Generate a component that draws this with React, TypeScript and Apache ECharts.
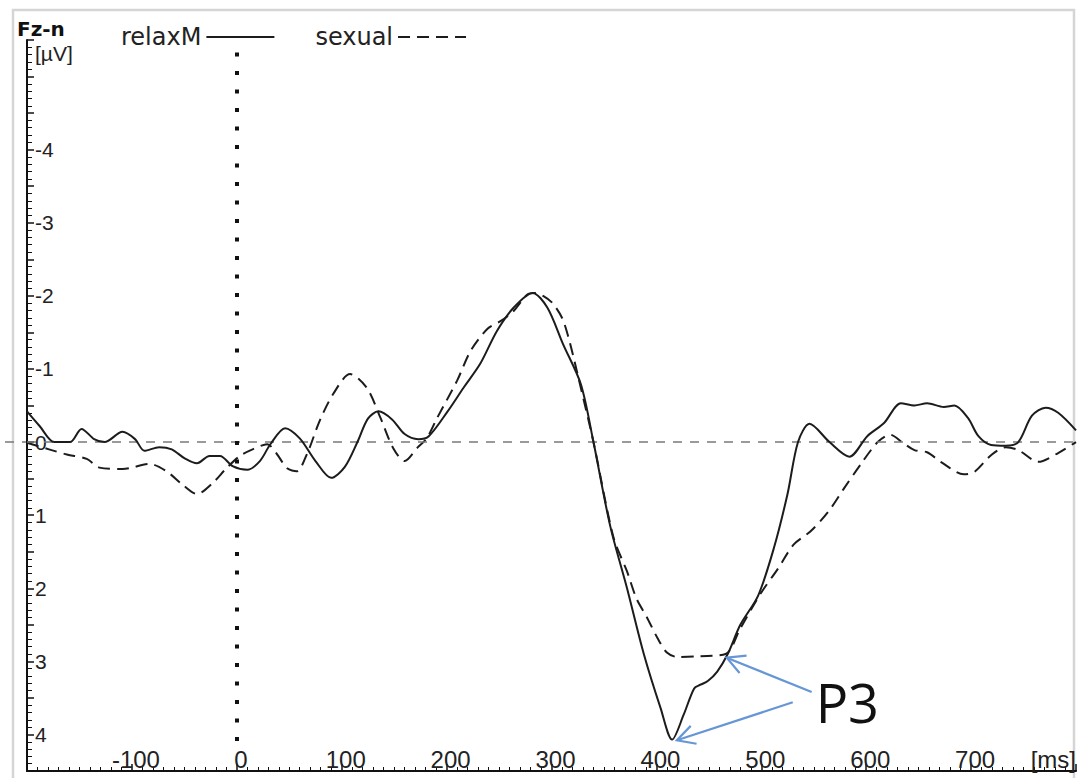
import React, { useEffect, useRef } from 'react';
import * as echarts from 'echarts';

// ---- data (time in ms, amplitude in µV; negative plotted upward) ----
const seriesNames = ['relaxM', 'sexual'];
const channelName = 'Fz-n';
const yUnit = '[µV]';
const xUnit = '[ms]';

const relaxTimes = [
  -200, -188, -174, -159, -148, -136, -126, -109, -97, -88, -74, -62, -50, -38, -26, -16, -4,
  10, 22, 32, 46, 60, 75, 90, 103, 115, 125, 135, 148, 160, 173, 183, 201, 216, 232, 248, 264,
  282, 296, 311, 328, 340, 356, 372, 388, 404, 415, 426, 436, 442, 449, 458, 468, 480, 497,
  512, 525, 535, 546, 565, 584, 601, 617, 633, 646, 658, 674, 684, 697, 707, 719, 733, 745,
  758, 771, 783, 800,
];
const relaxValues = [
  -0.42, -0.22, 0.0, 0.0, -0.18, -0.04, 0.0, -0.14, -0.04, 0.12, 0.07, 0.1, 0.22, 0.29, 0.19, 0.19, 0.33,
  0.38, 0.26, 0.03, -0.19, -0.05, 0.26, 0.49, 0.34, 0.0, -0.32, -0.42, -0.31, -0.11, -0.04, -0.08, -0.42, -0.74, -1.07, -1.52, -1.84,
  -2.04, -1.84, -1.34, -0.79, 0.0, 1.15, 2.0, 2.9, 3.64, 4.07, 3.73, 3.37, 3.32, 3.27, 3.14, 2.9, 2.5, 2.1,
  1.45, 0.71, 0.0, -0.25, 0.0, 0.2, -0.08, -0.26, -0.53, -0.5, -0.53, -0.48, -0.5, -0.33, -0.08, 0.04, 0.05, 0.0,
  -0.36, -0.47, -0.4, -0.16,
];

const sexualTimes = [
  -200, -179, -162, -143, -131, -109, -83, -67, -52, -38, -23, -10, 3, 15, 29, 38, 48, 57, 67,
  79, 92, 108, 124, 137, 149, 160, 172, 181, 191, 210, 223, 239, 251, 263, 277, 284, 292, 301,
  310, 316, 324, 340, 359, 372, 381, 391, 401, 410, 420, 442, 466, 480, 499, 516, 531, 547,
  564, 579, 595, 611, 623, 634, 646, 658, 671, 693, 703, 719, 733, 745, 764, 783, 800,
];
const sexualValues = [
  0.01, 0.1, 0.17, 0.23, 0.35, 0.37, 0.3, 0.4, 0.58, 0.71, 0.56, 0.36, 0.19, 0.1, 0.03, 0.16, 0.36, 0.4, 0.16,
  -0.29, -0.66, -0.93, -0.74, -0.33, 0.08, 0.26, 0.08, -0.05, -0.33, -0.84, -1.25, -1.55, -1.65, -1.78, -2.02, -2.04, -2.0, -1.9,
  -1.7, -1.44, -0.98, 0.0, 1.3, 1.77, 2.14, 2.4, 2.68, 2.88, 2.94, 2.93, 2.9, 2.55, 2.08, 1.73, 1.4, 1.22,
  0.95, 0.63, 0.3, 0.0, -0.1, 0.0, 0.11, 0.14, 0.27, 0.44, 0.41, 0.18, 0.07, 0.11, 0.27, 0.15, 0.0,
];

// annotation: "P3" label with arrows pointing at the two P3 peaks (data coordinates)
const p3Label = 'P3';
const p3LabelAt = [582, 3.56];
const p3Targets = [
  [467, 2.95],
  [419.5, 4.08],
];
const p3Tails = [
  [548, 3.42],
  [530, 3.56],
];

const LINE_COLOR = '#1c1c1c';
const ARROW_COLOR = '#6796d6';
const SANS = '"Liberation Sans", Arial, sans-serif';

function zip(t: number[], v: number[]) {
  return t.map((x, i) => [x, v[i]]);
}

function buildOption(): any {
  return {
    animation: false,
    backgroundColor: '#ffffff',
    title: {
      text: channelName,
      left: 12,
      top: 14,
      textStyle: {
        fontFamily: '"DejaVu Sans", sans-serif',
        fontWeight: 'bold',
        fontSize: 20,
        color: '#111',
      },
    },
    legend: {
      data: seriesNames,
      left: 116,
      top: 20,
      align: 'right',
      itemWidth: 68,
      itemHeight: 14,
      itemGap: 40,
      itemStyle: { opacity: 0 },
      textStyle: {
        fontFamily: '"DejaVu Sans", sans-serif',
        fontSize: 24,
        color: '#222',
      },
    },
    grid: { left: 27, top: 40, width: 1049, height: 731, containLabel: false },
    xAxis: {
      type: 'value',
      min: -200,
      max: 800,
      interval: 100,
      axisLine: { onZero: false, lineStyle: { color: '#111', width: 2 } },
      axisTick: { inside: true, length: 7, lineStyle: { color: '#111', width: 1.5 } },
      minorTick: { show: true, splitNumber: 10, length: 4, lineStyle: { color: '#111', width: 1 } },
      splitLine: { show: false },
      axisLabel: {
        inside: true,
        margin: 0,
        fontSize: 24,
        fontFamily: SANS,
        color: '#222',
        padding: [0, 0, 0, 8],
        showMinLabel: false,
        showMaxLabel: true,
        alignMaxLabel: 'right',
        formatter: (v: number) => (v === -200 ? '' : v === 800 ? xUnit : String(v)),
      },
    },
    yAxis: {
      type: 'value',
      inverse: true,
      min: -5.5,
      max: 4.5,
      interval: 0.5,
      name: yUnit,
      nameLocation: 'start',
      nameGap: -24,
      nameTextStyle: { fontFamily: SANS, fontSize: 21, color: '#222', align: 'left', padding: [0, 0, 0, 8] },
      axisLine: { onZero: false, lineStyle: { color: '#111', width: 2 } },
      axisTick: { inside: true, length: 7, lineStyle: { color: '#111', width: 1.5 } },
      minorTick: { show: true, splitNumber: 5, length: 5, lineStyle: { color: '#111', width: 1 } },
      splitLine: { show: false },
      axisLabel: {
        inside: true,
        margin: 8,
        fontSize: 21,
        fontFamily: SANS,
        color: '#222',
        padding: [8, 0, 0, 0],
        formatter: (v: number) => (Number.isInteger(v) && v > -5 && v < 4.5 ? String(v) : ''),
      },
    },
    series: [
      {
        name: seriesNames[0],
        type: 'line',
        data: zip(relaxTimes, relaxValues),
        smooth: 0.3,
        symbol: 'none',
        lineStyle: { color: LINE_COLOR, width: 2, type: 'solid' },
        itemStyle: { color: LINE_COLOR },
        z: 5,
        markLine: {
          silent: true,
          symbol: 'none',
          label: { show: false },
          lineStyle: { color: '#7a7a7a', width: 1.6, type: [9, 8] },
          data: [{ yAxis: 0 }],
        },
      },
      {
        name: seriesNames[1],
        type: 'line',
        data: zip(sexualTimes, sexualValues),
        smooth: 0.3,
        symbol: 'none',
        lineStyle: { color: LINE_COLOR, width: 2, type: [12, 7] },
        itemStyle: { color: LINE_COLOR },
        z: 4,
        markLine: {
          silent: true,
          symbol: 'none',
          label: { show: false },
          lineStyle: { color: '#111', width: 4, type: [4, 14.5] },
          data: [[{ coord: [0, -5.33] }, { coord: [0, 4.1] }]],
        },
      },
    ],
  };
}

function arrowHead(tail: number[], tip: number[], len = 20, angDeg = 28) {
  const dx = tail[0] - tip[0];
  const dy = tail[1] - tip[1];
  const d = Math.hypot(dx, dy) || 1;
  const ux = dx / d;
  const uy = dy / d;
  const a = (angDeg * Math.PI) / 180;
  const rot = (s: number) => [
    tip[0] + len * (ux * Math.cos(s * a) - uy * Math.sin(s * a)),
    tip[1] + len * (ux * Math.sin(s * a) + uy * Math.cos(s * a)),
  ];
  return [rot(1), [tip[0], tip[1]], rot(-1)];
}

export default function App() {
  const ref = useRef<HTMLDivElement>(null);
  useEffect(() => {
    if (!ref.current) return;
    const chart = echarts.init(ref.current, null, { renderer: 'svg' });
    chart.setOption(buildOption());

    const toPx = (p: number[]) => chart.convertToPixel({ gridIndex: 0 }, p) as number[];
    const zeroPx = toPx([-200, 0]);
    const graphics: any[] = [
      {
        type: 'rect',
        silent: true,
        z: -10,
        shape: { x: 13, y: 10, width: 1061, height: 800 },
        style: { fill: 'none', stroke: '#d5d5d5', lineWidth: 2.5 },
      },
      {
        type: 'line',
        silent: true,
        shape: { x1: 5, y1: zeroPx[1], x2: zeroPx[0], y2: zeroPx[1] },
        style: { stroke: '#7a7a7a', lineWidth: 1.6, lineDash: [9, 8] },
      },
    ];
    p3Targets.forEach((t, i) => {
      const tip = toPx(t);
      const tail = toPx(p3Tails[i]);
      graphics.push({
        type: 'line',
        silent: true,
        z: 20,
        shape: { x1: tail[0], y1: tail[1], x2: tip[0], y2: tip[1] },
        style: { stroke: ARROW_COLOR, lineWidth: 2.2 },
      });
      graphics.push({
        type: 'polyline',
        silent: true,
        z: 20,
        shape: { points: arrowHead(tail, tip) },
        style: { stroke: ARROW_COLOR, lineWidth: 2.2, fill: 'none' },
      });
    });
    const lp = toPx(p3LabelAt);
    graphics.push({
      type: 'text',
      silent: true,
      z: 20,
      x: lp[0],
      y: lp[1],
      style: {
        text: p3Label,
        fontSize: 54,
        fontFamily: '"Open Sans", "Noto Sans", sans-serif',
        fill: '#111',
        align: 'center',
        verticalAlign: 'middle',
      },
    });
    chart.setOption({ graphic: graphics });

    return () => chart.dispose();
  }, []);

  return (
    <div
      ref={ref}
      style={{ position: 'fixed', left: 0, top: 0, width: 1087, height: 778, background: '#fff' }}
    />
  );
}
